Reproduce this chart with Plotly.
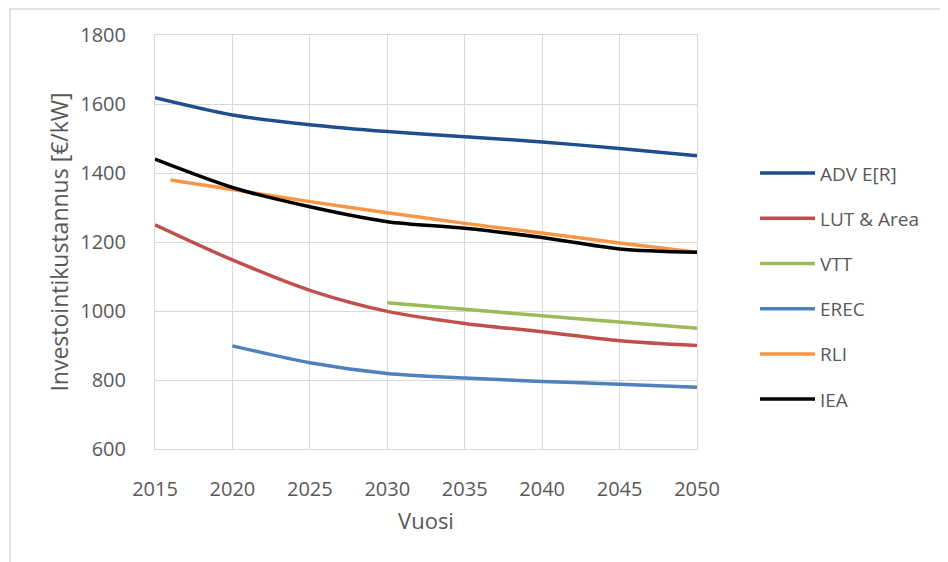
import plotly.graph_objects as go

years = [2015, 2020, 2025, 2030, 2035, 2040, 2045, 2050]
adv_er = [1618, 1568, 1540, 1520, 1505, 1490, 1471, 1450]
lut_area = [1250, 1148, 1060, 999, 964, 940, 914, 900]
vtt_years = [2030, 2035, 2040, 2045, 2050]
vtt = [1024, 1005, 986, 968, 950]
erec_years = [2020, 2025, 2030, 2035, 2040, 2045, 2050]
erec = [899, 850, 819, 806, 796, 788, 779]
rli_years = [2016, 2020, 2025, 2030, 2035, 2040, 2045, 2050]
rli = [1380, 1352, 1317, 1285, 1254, 1226, 1197, 1170]
iea = [1440, 1358, 1302, 1259, 1240, 1213, 1180, 1170]

series = [
    ("ADV E[R]", years, adv_er, "#1F4E8C"),
    ("LUT & Area", years, lut_area, "#C0504D"),
    ("VTT", vtt_years, vtt, "#9BBB59"),
    ("EREC", erec_years, erec, "#4F81BD"),
    ("RLI", rli_years, rli, "#F79646"),
    ("IEA", years, iea, "#000000"),
]

FONT = "Open Sans"
fig = go.Figure()
for i, (name, xs, ys, col) in enumerate(series):
    fig.add_trace(go.Scatter(
        x=xs, y=ys, name=name, mode="lines",
        line=dict(color=col, width=3.5, shape="spline", smoothing=0.8),
        legendgroup=f"g{i}",
    ))

# page body has an 8px margin, so the figure is 8px smaller than the window
fig.update_layout(
    width=940, height=554,
    margin=dict(l=147, r=251, t=27, b=113),
    paper_bgcolor="white", plot_bgcolor="white",
    font=dict(family=FONT, color="#595959", size=19),
    showlegend=True,
    legend=dict(
        x=1.107, xanchor="left", y=0.712, yanchor="top",
        font=dict(family=FONT, size=19, color="#595959"),
        tracegroupgap=17.5, itemwidth=55, bgcolor="rgba(0,0,0,0)",
    ),
    xaxis=dict(
        range=[2015, 2050], dtick=5, tick0=2015,
        showgrid=True, gridcolor="#D9D9D9", gridwidth=1,
        showline=True, linecolor="#D9D9D9", linewidth=1, mirror=True,
        zeroline=False, ticks="", ticklabelstandoff=22,
        tickfont=dict(family=FONT, size=20, color="#595959"),
        title=dict(text="Vuosi", font=dict(family=FONT, size=22, color="#595959"), standoff=12),
    ),
    yaxis=dict(
        range=[600, 1800], dtick=200,
        showgrid=True, gridcolor="#D9D9D9", gridwidth=1,
        showline=True, linecolor="#D9D9D9", linewidth=1, mirror=True,
        zeroline=False, ticks="", ticklabelstandoff=24,
        tickfont=dict(family=FONT, size=20, color="#595959"),
        title=dict(text="Investointikustannus [€/kW]", font=dict(family=FONT, size=23, color="#595959"), standoff=5),
    ),
)

# chart-area border (only top and left visible in the frame)
fig.add_shape(type="rect", xref="paper", yref="paper",
              x0=(2 - 147) / 542, x1=1.6, y0=-0.6, y1=1 + 26 / 414,
              line=dict(color="#D9D9D9", width=1.5), fillcolor="rgba(0,0,0,0)", layer="below")

fig.write_html("out.html")
